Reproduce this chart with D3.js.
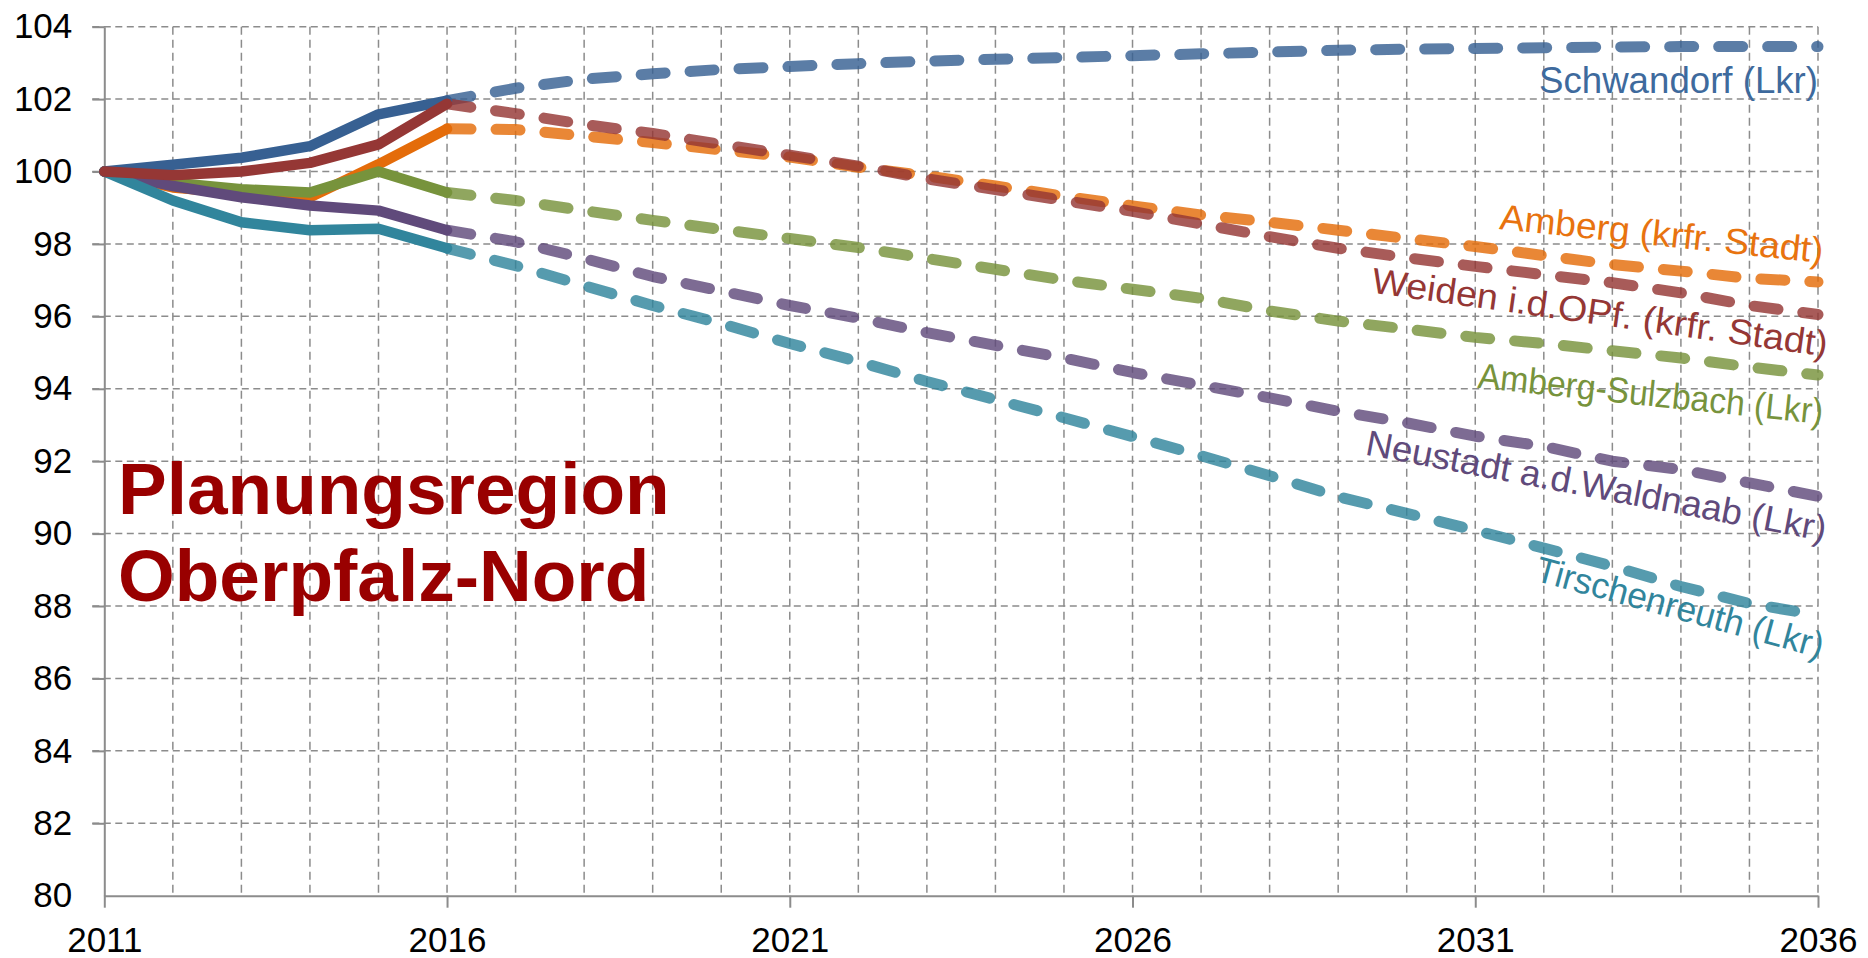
<!DOCTYPE html>
<html>
<head>
<meta charset="utf-8">
<script src="https://cdn.jsdelivr.net/npm/d3@7"></script>
<style>
  body { margin: 0; background: #fff; }
  svg { display: block; }
  text { font-family: "Liberation Sans", Arial, sans-serif; }
</style>
</head>
<body>
<script>
// Data (index, 2011 = 100)
const years = [2011, 2012, 2013, 2014, 2015, 2016, 2017, 2018, 2019, 2020, 2021, 2022, 2023,
               2024, 2025, 2026, 2027, 2028, 2029, 2030, 2031, 2032, 2033, 2034, 2035, 2036];
const lastActualYear = 2016;

const schwandorf = [100, 100.19, 100.38, 100.7, 101.58, 101.96, 102.3, 102.55, 102.7, 102.82, 102.9, 102.98, 103.05,
                    103.1, 103.15, 103.2, 103.25, 103.3, 103.35, 103.38, 103.4, 103.42, 103.44, 103.45, 103.45, 103.45];
const amberg = [100, 99.56, 99.4, 99.29, 100.2, 101.18, 101.16, 100.98, 100.8, 100.6, 100.4, 100.12, 99.88,
                99.6, 99.32, 99.05, 98.8, 98.6, 98.38, 98.15, 97.93, 97.68, 97.43, 97.25, 97.05, 96.95];
const weiden = [100, 99.9, 100.0, 100.24, 100.75, 101.87, 101.6, 101.3, 101.05, 100.75, 100.45, 100.15, 99.8,
                99.5, 99.2, 98.9, 98.55, 98.2, 97.88, 97.62, 97.38, 97.15, 96.93, 96.65, 96.3, 96.05];
const ambergSulzbach = [100, 99.69, 99.51, 99.42, 100.0, 99.42, 99.2, 98.92, 98.65, 98.4, 98.15, 97.9, 97.6,
                        97.3, 97.0, 96.75, 96.5, 96.15, 95.87, 95.65, 95.42, 95.25, 95.05, 94.85, 94.6, 94.38];
const neustadt = [100, 99.6, 99.29, 99.06, 98.92, 98.38, 98.06, 97.6, 97.1, 96.7, 96.3, 95.95, 95.55,
                  95.2, 94.85, 94.45, 94.1, 93.75, 93.38, 93.06, 92.69, 92.41, 92.0, 91.77, 91.4, 91.03];
const tirschenreuth = [100, 99.2, 98.6, 98.38, 98.42, 97.88, 97.4, 96.85, 96.3, 95.8, 95.25, 94.75, 94.2,
                       93.7, 93.2, 92.68, 92.15, 91.6, 91.02, 90.56, 90.09, 89.6, 89.1, 88.54, 88.07, 87.75];

const seriesNames = ["Schwandorf (Lkr)", "Amberg (krfr. Stadt)", "Weiden i.d.OPf. (krfr. Stadt)",
                     "Amberg-Sulzbach (Lkr)", "Neustadt a.d.Waldnaab (Lkr)", "Tirschenreuth (Lkr)"];
const seriesValues = [schwandorf, amberg, weiden, ambergSulzbach, neustadt, tirschenreuth];

const yTicks = [80, 82, 84, 86, 88, 90, 92, 94, 96, 98, 100, 102, 104];
const xTicks = [2011, 2016, 2021, 2026, 2031, 2036];
const titleLines = ["Planungsregion", "Oberpfalz-Nord"];

// Styling
const colors = ["#376092", "#e46c0a", "#953735", "#77933c", "#604a7b", "#31859c"];
const labelColors = ["#3e6a9d", "#e8730f", "#953735", "#77933c", "#604a7b", "#31859c"];
const drawOrder = [1, 3, 4, 5, 0, 2];
// label placement relative to the end of each line: [dx, dy, angle, textLength]
const labelPlace = [
  [0, 46, 0, 279],
  [4, -19, 6, 325],
  [8, 42, 8, 460],
  [4, 49, 6, 347],
  [6, 45, 10.7, 468],
  [2, 43, 15.2, 297]
];

const width = 1868, height = 958;
const svg = d3.select("body").append("svg")
  .attr("width", width)
  .attr("height", height);

const x = d3.scaleLinear().domain([2011, 2036]).range([104.3, 1818]);
const y = d3.scaleLinear().domain([80, 104]).range([895.7, 26.7]);

const gridColor = "#8c8c8c";

// horizontal grid
svg.append("g").selectAll("line")
  .data(yTicks.filter(d => d > 80))
  .join("line")
  .attr("x1", x(2011) - 12).attr("x2", x(2036))
  .attr("y1", d => y(d)).attr("y2", d => y(d))
  .attr("stroke", gridColor).attr("stroke-width", 1.5)
  .attr("stroke-dasharray", "7,4.5");

// vertical grid
svg.append("g").selectAll("line")
  .data(years.filter(d => d > 2011))
  .join("line")
  .attr("x1", d => x(d)).attr("x2", d => x(d))
  .attr("y1", y(104)).attr("y2", y(80))
  .attr("stroke", gridColor).attr("stroke-width", 1.5)
  .attr("stroke-dasharray", "8,5");

// axes
const yAxis = svg.append("g")
  .attr("transform", `translate(${x(2011)},0)`)
  .call(d3.axisLeft(y).tickValues(yTicks).tickSize(12).tickSizeOuter(0).tickPadding(20));
const xAxis = svg.append("g")
  .attr("transform", `translate(0,${y(80)})`)
  .call(d3.axisBottom(x).tickValues(xTicks).tickSize(12).tickSizeOuter(0).tickPadding(19)
        .tickFormat(d3.format("d")));

[yAxis, xAxis].forEach(g => {
  g.select(".domain").attr("stroke", gridColor).attr("stroke-width", 2);
  g.selectAll(".tick line").attr("stroke", gridColor).attr("stroke-width", 2);
  g.selectAll(".tick text")
    .attr("font-size", 35)
    .attr("fill", "#000")
    .style("font-family", '"Liberation Sans", Arial, sans-serif');
});
yAxis.selectAll(".tick line").filter(d => d === 80).remove();

// title
svg.append("text")
  .attr("x", 118)
  .attr("y", 514)
  .attr("font-size", 73)
  .attr("font-weight", "bold")
  .attr("fill", "#990000")
  .selectAll("tspan")
  .data(titleLines)
  .join("tspan")
  .attr("x", 118)
  .attr("dy", (d, i) => i === 0 ? 0 : 87)
  .text(d => d);

// lines
const line = d3.line()
  .x(d => x(d.year))
  .y(d => y(d.value));

const linesG = svg.append("g")
  .attr("fill", "none")
  .attr("stroke-linecap", "round")
  .attr("stroke-linejoin", "round");

drawOrder.forEach(i => {
  const pts = years.map((yr, j) => ({ year: yr, value: seriesValues[i][j] }));
  linesG.append("path")
    .attr("d", line(pts.filter(p => p.year >= lastActualYear)))
    .attr("stroke", colors[i])
    .attr("stroke-opacity", 0.82)
    .attr("stroke-width", 11)
    .attr("stroke-dasharray", "24,25");
});
drawOrder.forEach(i => {
  const pts = years.map((yr, j) => ({ year: yr, value: seriesValues[i][j] }));
  linesG.append("path")
    .attr("d", line(pts.filter(p => p.year <= lastActualYear)))
    .attr("stroke", colors[i])
    .attr("stroke-width", 10.5);
});

// series labels
seriesNames.forEach((name, i) => {
  const vals = seriesValues[i];
  const [dx, dy, angle, len] = labelPlace[i];
  svg.append("text")
    .attr("transform", `translate(${x(2036) + dx},${y(vals[vals.length - 1]) + dy}) rotate(${angle})`)
    .attr("text-anchor", "end")
    .attr("font-size", 36)
    .attr("fill", labelColors[i])
    .attr("textLength", len)
    .attr("lengthAdjust", "spacingAndGlyphs")
    .text(name);
});
</script>
</body>
</html>
